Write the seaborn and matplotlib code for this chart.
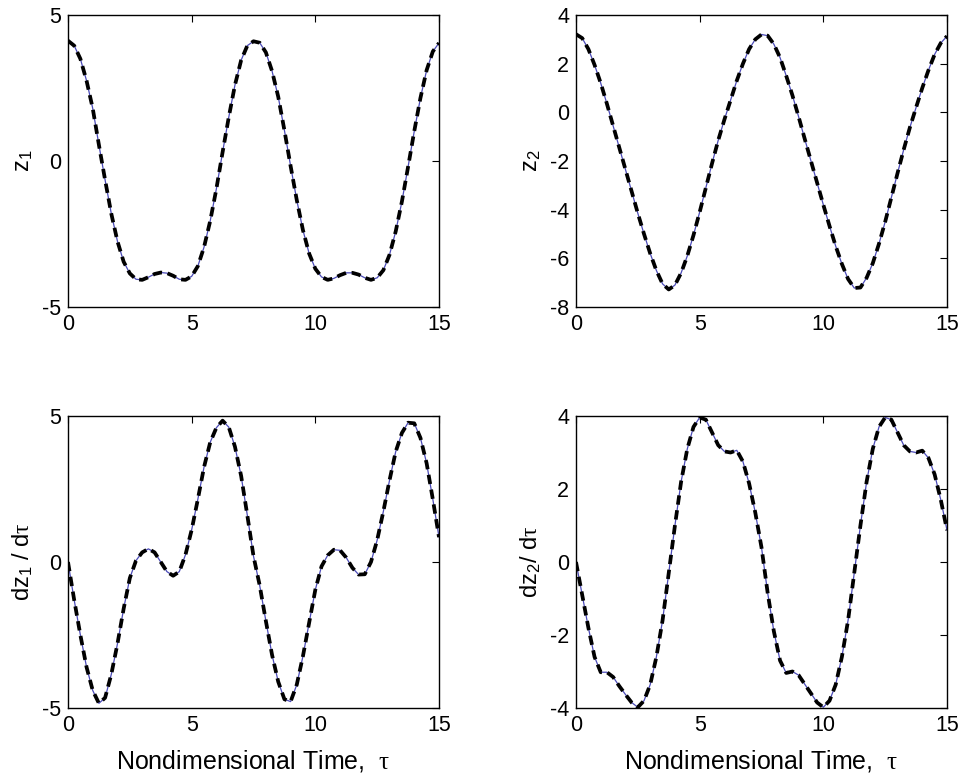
import numpy as np
import pandas as pd
import matplotlib
matplotlib.use("Agg")
import matplotlib.pyplot as plt
import seaborn as sns

tau = [0.0, 0.25, 0.5, 0.75, 1.0, 1.25, 1.5, 1.75, 2.0, 2.25, 2.5, 2.75, 3.0, 3.25, 3.5, 3.75,
       4.0, 4.25, 4.5, 4.75, 5.0, 5.25, 5.5, 5.75, 6.0, 6.25, 6.5, 6.75, 7.0, 7.25, 7.5, 7.75,
       8.0, 8.25, 8.5, 8.75, 9.0, 9.25, 9.5, 9.75, 10.0, 10.25, 10.5, 10.75, 11.0, 11.25, 11.5, 11.75,
       12.0, 12.25, 12.5, 12.75, 13.0, 13.25, 13.5, 13.75, 14.0, 14.25, 14.5, 14.75, 15.0]

z1 = [4.12, 3.95, 3.5, 2.75, 1.8, 0.55, -0.65, -1.8, -2.75, -3.45, -3.85, -4.05, -4.07, -3.98, -3.87, -3.82,
      -3.84, -3.93, -4.05, -4.07, -3.95, -3.6, -2.95, -2.05, -0.95, 0.3, 1.5, 2.6, 3.45, 3.95, 4.1, 4.05,
      3.72, 3.08, 2.2, 1.05, -0.17, -1.34, -2.37, -3.17, -3.69, -3.97, -4.07, -4.02, -3.91, -3.83, -3.83, -3.89,
      -4.0, -4.07, -4.0, -3.74, -3.21, -2.41, -1.39, -0.2, 1.02, 2.16, 3.11, 3.75, 4.04]

z2 = [3.21, 3.05, 2.6, 1.95, 1.2, 0.35, -0.55, -1.45, -2.35, -3.25, -4.15, -5.0, -5.8, -6.5, -7.05, -7.28,
      -7.1, -6.6, -5.9, -5.05, -4.1, -3.1, -2.1, -1.15, -0.3, 0.5, 1.3, 2.0, 2.6, 3.0, 3.2, 3.15,
      2.8, 2.25, 1.5, 0.7, -0.18, -1.1, -2.0, -2.9, -3.8, -4.67, -5.5, -6.23, -6.85, -7.22, -7.2, -6.8,
      -6.2, -5.4, -4.5, -3.5, -2.5, -1.53, -0.62, 0.2, 1.0, 1.73, 2.38, 2.85, 3.13]

dz1 = [0.0, -1.3, -2.5, -3.6, -4.4, -4.84, -4.65, -3.85, -2.8, -1.6, -0.55, 0.05, 0.33, 0.45, 0.33, 0.0,
       -0.33, -0.47, -0.33, 0.25, 1.1, 2.15, 3.25, 4.1, 4.6, 4.84, 4.62, 3.95, 2.95, 1.6, 0.2, -0.8,
       -2.02, -3.18, -4.1, -4.7, -4.78, -4.2, -3.22, -2.08, -0.95, -0.15, 0.23, 0.42, 0.4, 0.15, -0.2, -0.43,
       -0.42, 0.0, 0.75, 1.73, 2.8, 3.78, 4.42, 4.77, 4.75, 4.25, 3.38, 2.15, 0.85]

dz2 = [0.0, -0.9, -1.8, -2.6, -3.02, -3.02, -3.15, -3.4, -3.63, -3.85, -3.98, -3.8, -3.36, -2.6, -1.6, -0.3,
       1.0, 2.2, 3.1, 3.7, 3.96, 3.9, 3.55, 3.2, 3.03, 3.0, 3.06, 2.75, 2.15, 1.35, 0.4, -0.85,
       -1.9, -2.7, -3.04, -3.0, -3.1, -3.35, -3.6, -3.85, -3.98, -3.8, -3.36, -2.6, -1.6, -0.3, 1.0, 2.2,
       3.1, 3.7, 3.96, 3.9, 3.55, 3.2, 3.03, 3.0, 3.05, 2.85, 2.4, 1.7, 0.87]

ylabels = [r"z$_1$", r"z$_2$", r"dz$_1$ / d$\mathit{\tau}$", r"dz$_2$/ d$\mathit{\tau}$"]
xlabel = r"Nondimensional Time,  $\mathit{\tau}$"
ylims = [(-5, 5), (-8, 4), (-5, 5), (-4, 4)]
yticks = [[-5, 0, 5], [-8, -6, -4, -2, 0, 2, 4], [-5, 0, 5], [-4, -2, 0, 2, 4]]
xticks = [0, 5, 10, 15]

sns.set_theme(style="white")
plt.rcParams.update({
    "font.family": ["Liberation Sans", "DejaVu Sans"],
    "mathtext.fontset": "custom",
    "mathtext.rm": "Liberation Sans",
    "mathtext.it": "Liberation Serif",
    "mathtext.default": "regular",
    "axes.unicode_minus": False,
    "axes.edgecolor": "black",
    "axes.labelcolor": "black",
    "text.color": "black",
    "xtick.color": "black",
    "ytick.color": "black",
    "axes.linewidth": 1.0,
})

fig = plt.figure(figsize=(9.68, 7.84), dpi=100)
W, H = 968, 784
boxes = [(68, 15), (576, 15), (68, 416), (576, 416)]
aw, ah = 371, 292
series = [z1, z2, dz1, dz2]

for i, (lx, ty) in enumerate(boxes):
    ax = fig.add_axes([lx / W, (H - ty - ah) / H, aw / W, ah / H])
    df = pd.DataFrame({"tau": tau, "val": series[i]})
    sns.lineplot(data=df, x="tau", y="val", ax=ax, color="#4b4bb8", linewidth=0.9)
    sns.lineplot(data=df, x="tau", y="val", ax=ax, color="black", linewidth=2.7)
    ln = ax.get_lines()[-1]
    ln.set_dashes([2.5, 1.5])
    ln.set_dash_capstyle("butt")
    ax.set_xlim(0, 15)
    ax.set_ylim(*ylims[i])
    ax.set_xticks(xticks)
    ax.set_yticks(yticks[i])
    ax.tick_params(direction="in", length=5, width=0.8, top=True, right=True,
                   labelsize=15.5, pad=5, colors="black")
    ax.set_ylabel(ylabels[i], fontsize=17, labelpad=5, color="black")
    if i >= 2:
        ax.set_xlabel(xlabel, fontsize=18, labelpad=9, color="black")
    else:
        ax.set_xlabel("")
    for s in ax.spines.values():
        s.set_color("black")
        s.set_linewidth(1.0)

fig.savefig("out.png", dpi=100, facecolor="white")
